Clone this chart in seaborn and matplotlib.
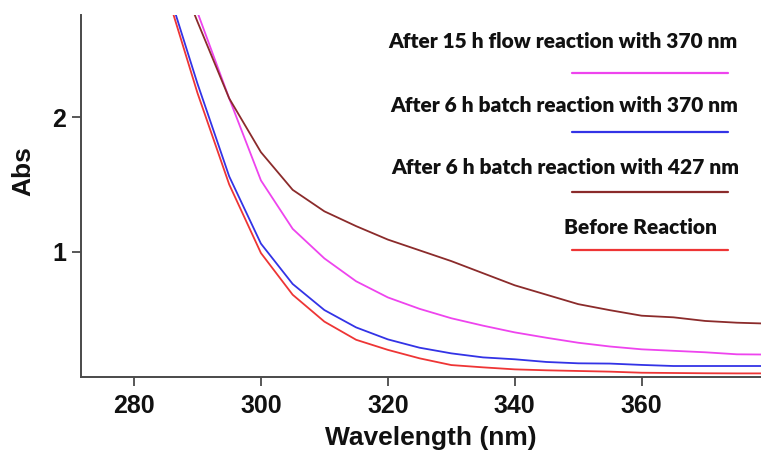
import matplotlib
matplotlib.use("Agg")
import matplotlib.pyplot as plt
from matplotlib.lines import Line2D
import numpy as np
import pandas as pd
import seaborn as sns

# Absorbance spectra (wavelength in nm)
wavelength = [285, 290, 295, 300, 305, 310, 315, 320, 325, 330,
              335, 340, 345, 350, 355, 360, 365, 370, 375, 380]
abs_flow_370 = [3.40, 2.78, 2.14, 1.53, 1.17, 0.95, 0.78, 0.66, 0.575, 0.505,
                0.45, 0.40, 0.36, 0.323, 0.295, 0.274, 0.263, 0.252, 0.237, 0.235]
abs_batch_370 = [3.00, 2.25, 1.56, 1.06, 0.76, 0.566, 0.437, 0.348, 0.286, 0.244,
                 0.214, 0.200, 0.180, 0.170, 0.168, 0.158, 0.150, 0.150, 0.150, 0.150]
abs_batch_427 = [3.30, 2.71, 2.14, 1.74, 1.46, 1.30, 1.19, 1.09, 1.01, 0.93,
                 0.84, 0.75, 0.68, 0.61, 0.565, 0.524, 0.512, 0.485, 0.472, 0.465]
abs_before = [2.95, 2.18, 1.50, 0.99, 0.68, 0.48, 0.345, 0.27, 0.207, 0.157,
              0.140, 0.125, 0.118, 0.113, 0.108, 0.100, 0.098, 0.096, 0.095, 0.095]

series_names = ["After 15 h flow reaction with 370 nm",
                "After 6 h batch reaction with 370 nm",
                "After 6 h batch reaction with 427 nm",
                "Before Reaction"]
series_values = [abs_flow_370, abs_batch_370, abs_batch_427, abs_before]
series_colors = ["#ee44ee", "#3333e6", "#8b2b2b", "#ee3535"]

x_ticks = [280, 300, 320, 340, 360]
y_ticks = [1, 2]

df = pd.concat(
    [pd.DataFrame({"Wavelength": wavelength, "Abs": vals, "Sample": name})
     for name, vals in zip(series_names, series_values)],
    ignore_index=True,
)

sns.set_theme(style="white")
plt.rcParams["font.family"] = ["Liberation Sans", "DejaVu Sans"]

W, H = 761, 451
fig = plt.figure(figsize=(W / 100, H / 100), dpi=100)
ax_l, ax_r, ax_b, ax_t = 80.7, 761.0, 377.3, 15.0
ax = fig.add_axes([ax_l / W, 1 - ax_b / H, (ax_r - ax_l) / W, (ax_b - ax_t) / H])

sns.lineplot(data=df, x="Wavelength", y="Abs", hue="Sample",
             palette=dict(zip(series_names, series_colors)),
             linewidth=1.3, legend=False, ax=ax, sort=False)

ax.set_xlim(271.6, 378.8)
ax.set_ylim(0.066, 2.76)
ax.set_xticks(x_ticks)
ax.set_yticks(y_ticks)
ax.set_xticklabels([str(t) for t in x_ticks])
ax.set_yticklabels([str(t) for t in y_ticks])

for side in ("top", "right"):
    ax.spines[side].set_visible(False)
for side in ("left", "bottom"):
    ax.spines[side].set_color("#4a4a4a")
    ax.spines[side].set_linewidth(1.4)

ax.tick_params(axis="both", which="major", direction="out", length=6.5, width=1.3,
               color="#4a4a4a", labelsize=18, pad=4, bottom=True, left=True)
ax.tick_params(axis="x", pad=5.5)
for lab in ax.get_xticklabels() + ax.get_yticklabels():
    lab.set_fontweight("bold")
    lab.set_color("#111111")

ax.set_xlabel("Wavelength (nm)", fontsize=19, fontweight="bold", color="#111111")
ax.set_ylabel("Abs", fontsize=19, fontweight="bold", color="#111111")
ax.xaxis.set_label_coords((431 - ax_l) / (ax_r - ax_l), (ax_b - 426) / (ax_b - ax_t))
ax.yaxis.set_label_coords((35 - ax_l) / (ax_r - ax_l), (ax_b - 171) / (ax_b - ax_t))

# Legend: label text above a short coloured line for each spectrum
label_centers = [(563, 42), (564, 105), (565.5, 167.7), (641, 227.3)]
line_y = [72.7, 132.3, 191.7, 250.0]
for name, color, (cx, cy), ly in zip(series_names, series_colors, label_centers, line_y):
    fig.text(cx / W, 1 - cy / H, name, ha="center", va="center",
             fontsize=15, fontweight="heavy", family=["Lato", "DejaVu Sans"],
             color="#111111")
    fig.add_artist(Line2D([572.3 / W, 727.7 / W], [1 - ly / H, 1 - ly / H],
                          color=color, linewidth=1.6, transform=fig.transFigure))

fig.savefig("out.png", dpi=100)
